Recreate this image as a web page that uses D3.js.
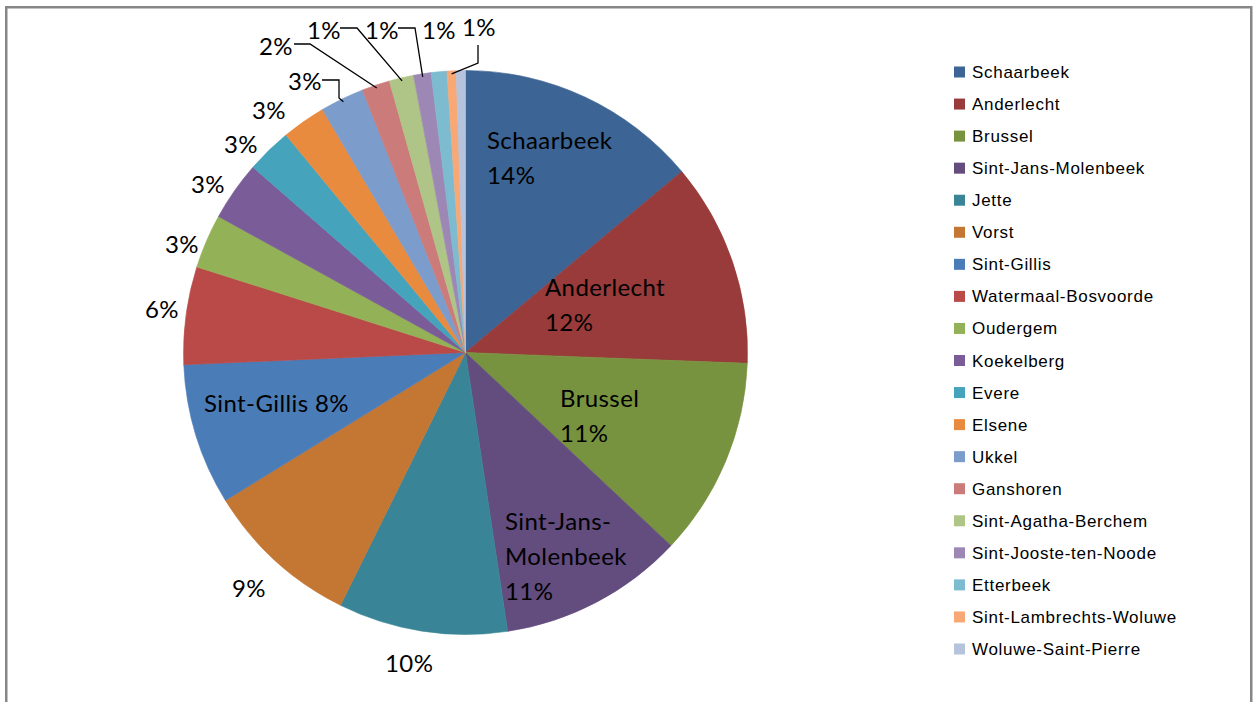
<!DOCTYPE html>
<html>
<head>
<meta charset="utf-8">
<script src="https://cdn.jsdelivr.net/npm/d3@7"></script>
<style>
  html, body { margin: 0; padding: 0; background: #fff; }
  svg { display: block; }
</style>
</head>
<body>
<svg id="chart" width="1253" height="702"></svg>
<script>
// Share of each Brussels municipality (percent)
const municipalities = [
  "Schaarbeek", "Anderlecht", "Brussel", "Sint-Jans-Molenbeek", "Jette", "Vorst",
  "Sint-Gillis", "Watermaal-Bosvoorde", "Oudergem", "Koekelberg", "Evere", "Elsene",
  "Ukkel", "Ganshoren", "Sint-Agatha-Berchem", "Sint-Jooste-ten-Noode", "Etterbeek",
  "Sint-Lambrechts-Woluwe", "Woluwe-Saint-Pierre"
];
const shares = [
  13.91, 11.7, 11.4, 10.6, 9.7, 8.9,
  8.1, 5.6, 3.1, 3.4, 2.6, 2.52,
  2.52, 1.6, 1.4, 1.0, 0.9,
  0.52, 0.53
];
const sliceColors = [
  "#3C6494", "#983B3A", "#78933F", "#634C7E", "#398597", "#C47633",
  "#4A7CB8", "#B94A47", "#93B156", "#7A5C99", "#45A3BC", "#E98B3F",
  "#7C9CCB", "#CB7B7A", "#AFC587", "#9D88B5", "#7DBBD0",
  "#F7A875", "#B6C3DD"
];
// Name lines printed in front of each percentage (empty = percentage only, null = no label)
const labelNames = [
  ["Schaarbeek"], ["Anderlecht"], ["Brussel"], ["Sint-Jans-", "Molenbeek"], [], [],
  ["Sint-Gillis"], [], [], [], [], [],
  [], [], [], [], [],
  [], null
];

const svg = d3.select("#chart");

// chart frame
svg.append("rect")
  .attr("x", 6.25).attr("y", 7.25)
  .attr("width", 1245).attr("height", 720)
  .attr("fill", "#fff")
  .attr("stroke", "#878787")
  .attr("stroke-width", 2.5);

const cx = 465.5, cy = 352.5, R = 282;
const total = d3.sum(shares);
const data = municipalities.map((name, i) => ({ name, value: shares[i], i }));

const pie = d3.pie().value(d => d.value).sort(null);
const arcs = pie(data);
const arc = d3.arc().innerRadius(0).outerRadius(R);

const g = svg.append("g").attr("transform", `translate(${cx},${cy})`);
g.selectAll("path.slice")
  .data(arcs)
  .join("path")
  .attr("class", "slice")
  .attr("d", arc)
  .attr("fill", d => sliceColors[d.data.i])
  .attr("stroke", d => sliceColors[d.data.i])
  .attr("stroke-width", 0.6);

const pct = v => Math.round(v / total * 100) + "%";

// label anchor points (left edge, first baseline) and optional leader polyline
const labelLayout = [
  { x: 487, y: 149 },                       // Schaarbeek
  { x: 545, y: 296 },                       // Anderlecht
  { x: 560, y: 407 },                       // Brussel
  { x: 505, y: 530 },                       // Sint-Jans-Molenbeek
  { x: 385, y: 672 },                       // Jette
  { x: 232, y: 597 },                       // Vorst
  { x: 204, y: 412, inline: true },         // Sint-Gillis
  { x: 145, y: 318 },                       // Watermaal-Bosvoorde
  { x: 165, y: 253 },                       // Oudergem
  { x: 191, y: 193 },                       // Koekelberg
  { x: 224, y: 153 },                       // Evere
  { x: 252, y: 119 },                       // Elsene
  { x: 288, y: 90, line: [[322, 80], [339, 80], [339, 98]] },   // Ukkel
  { x: 259, y: 55, line: [[294, 44], [310, 44]] },              // Ganshoren
  { x: 307, y: 39, line: [[340, 28], [357, 28]] },              // Sint-Agatha-Berchem
  { x: 365, y: 39, line: [[398, 28], [415, 28]] },              // Sint-Jooste-ten-Noode
  { x: 422, y: 39 },                                            // Etterbeek
  { x: 462, y: 36, line: [[478, 45], [478, 63]] },              // Sint-Lambrechts-Woluwe
  null                                                          // Woluwe-Saint-Pierre
];

const labels = svg.append("g")
  .attr("font-family", "Lato, 'Open Sans', sans-serif")
  .attr("font-size", 24)
  .attr("letter-spacing", 0.4)
  .attr("fill", "#000");
const leaders = svg.append("g")
  .attr("fill", "none").attr("stroke", "#000").attr("stroke-width", 1.3);

arcs.forEach((a, k) => {
  const lay = labelLayout[k];
  const names = labelNames[k];
  if (!lay || names === null) return;
  const t = labels.append("text").attr("x", lay.x).attr("y", lay.y);
  if (lay.inline) {
    t.text(names.concat(pct(a.data.value)).join(" "));
  } else {
    names.forEach((n, j) => {
      t.append("tspan").attr("x", lay.x).attr("dy", j === 0 ? 0 : 35).text(n);
    });
    t.append("tspan").attr("x", lay.x).attr("dy", names.length ? 35 : 0).text(pct(a.data.value));
  }
  if (lay.line) {
    const mid = (a.startAngle + a.endAngle) / 2;
    const end = [cx + Math.sin(mid) * (R - 3), cy - Math.cos(mid) * (R - 3)];
    leaders.append("path").attr("d", d3.line()([...lay.line, end]));
  }
});

// legend
const legend = svg.append("g")
  .attr("font-family", "'Liberation Sans', Arial, sans-serif")
  .attr("font-size", 17)
  .attr("fill", "#000");
const rowY = d3.scalePoint().domain(municipalities).range([72, 649]);
municipalities.forEach((name, i) => {
  const y = rowY(name);
  legend.append("rect")
    .attr("x", 954).attr("y", y - 5.5)
    .attr("width", 11).attr("height", 11)
    .attr("fill", sliceColors[i]);
  legend.append("text")
    .attr("x", 972).attr("y", y + 6)
    .attr("letter-spacing", 0.7)
    .text(name);
});
</script>
</body>
</html>
